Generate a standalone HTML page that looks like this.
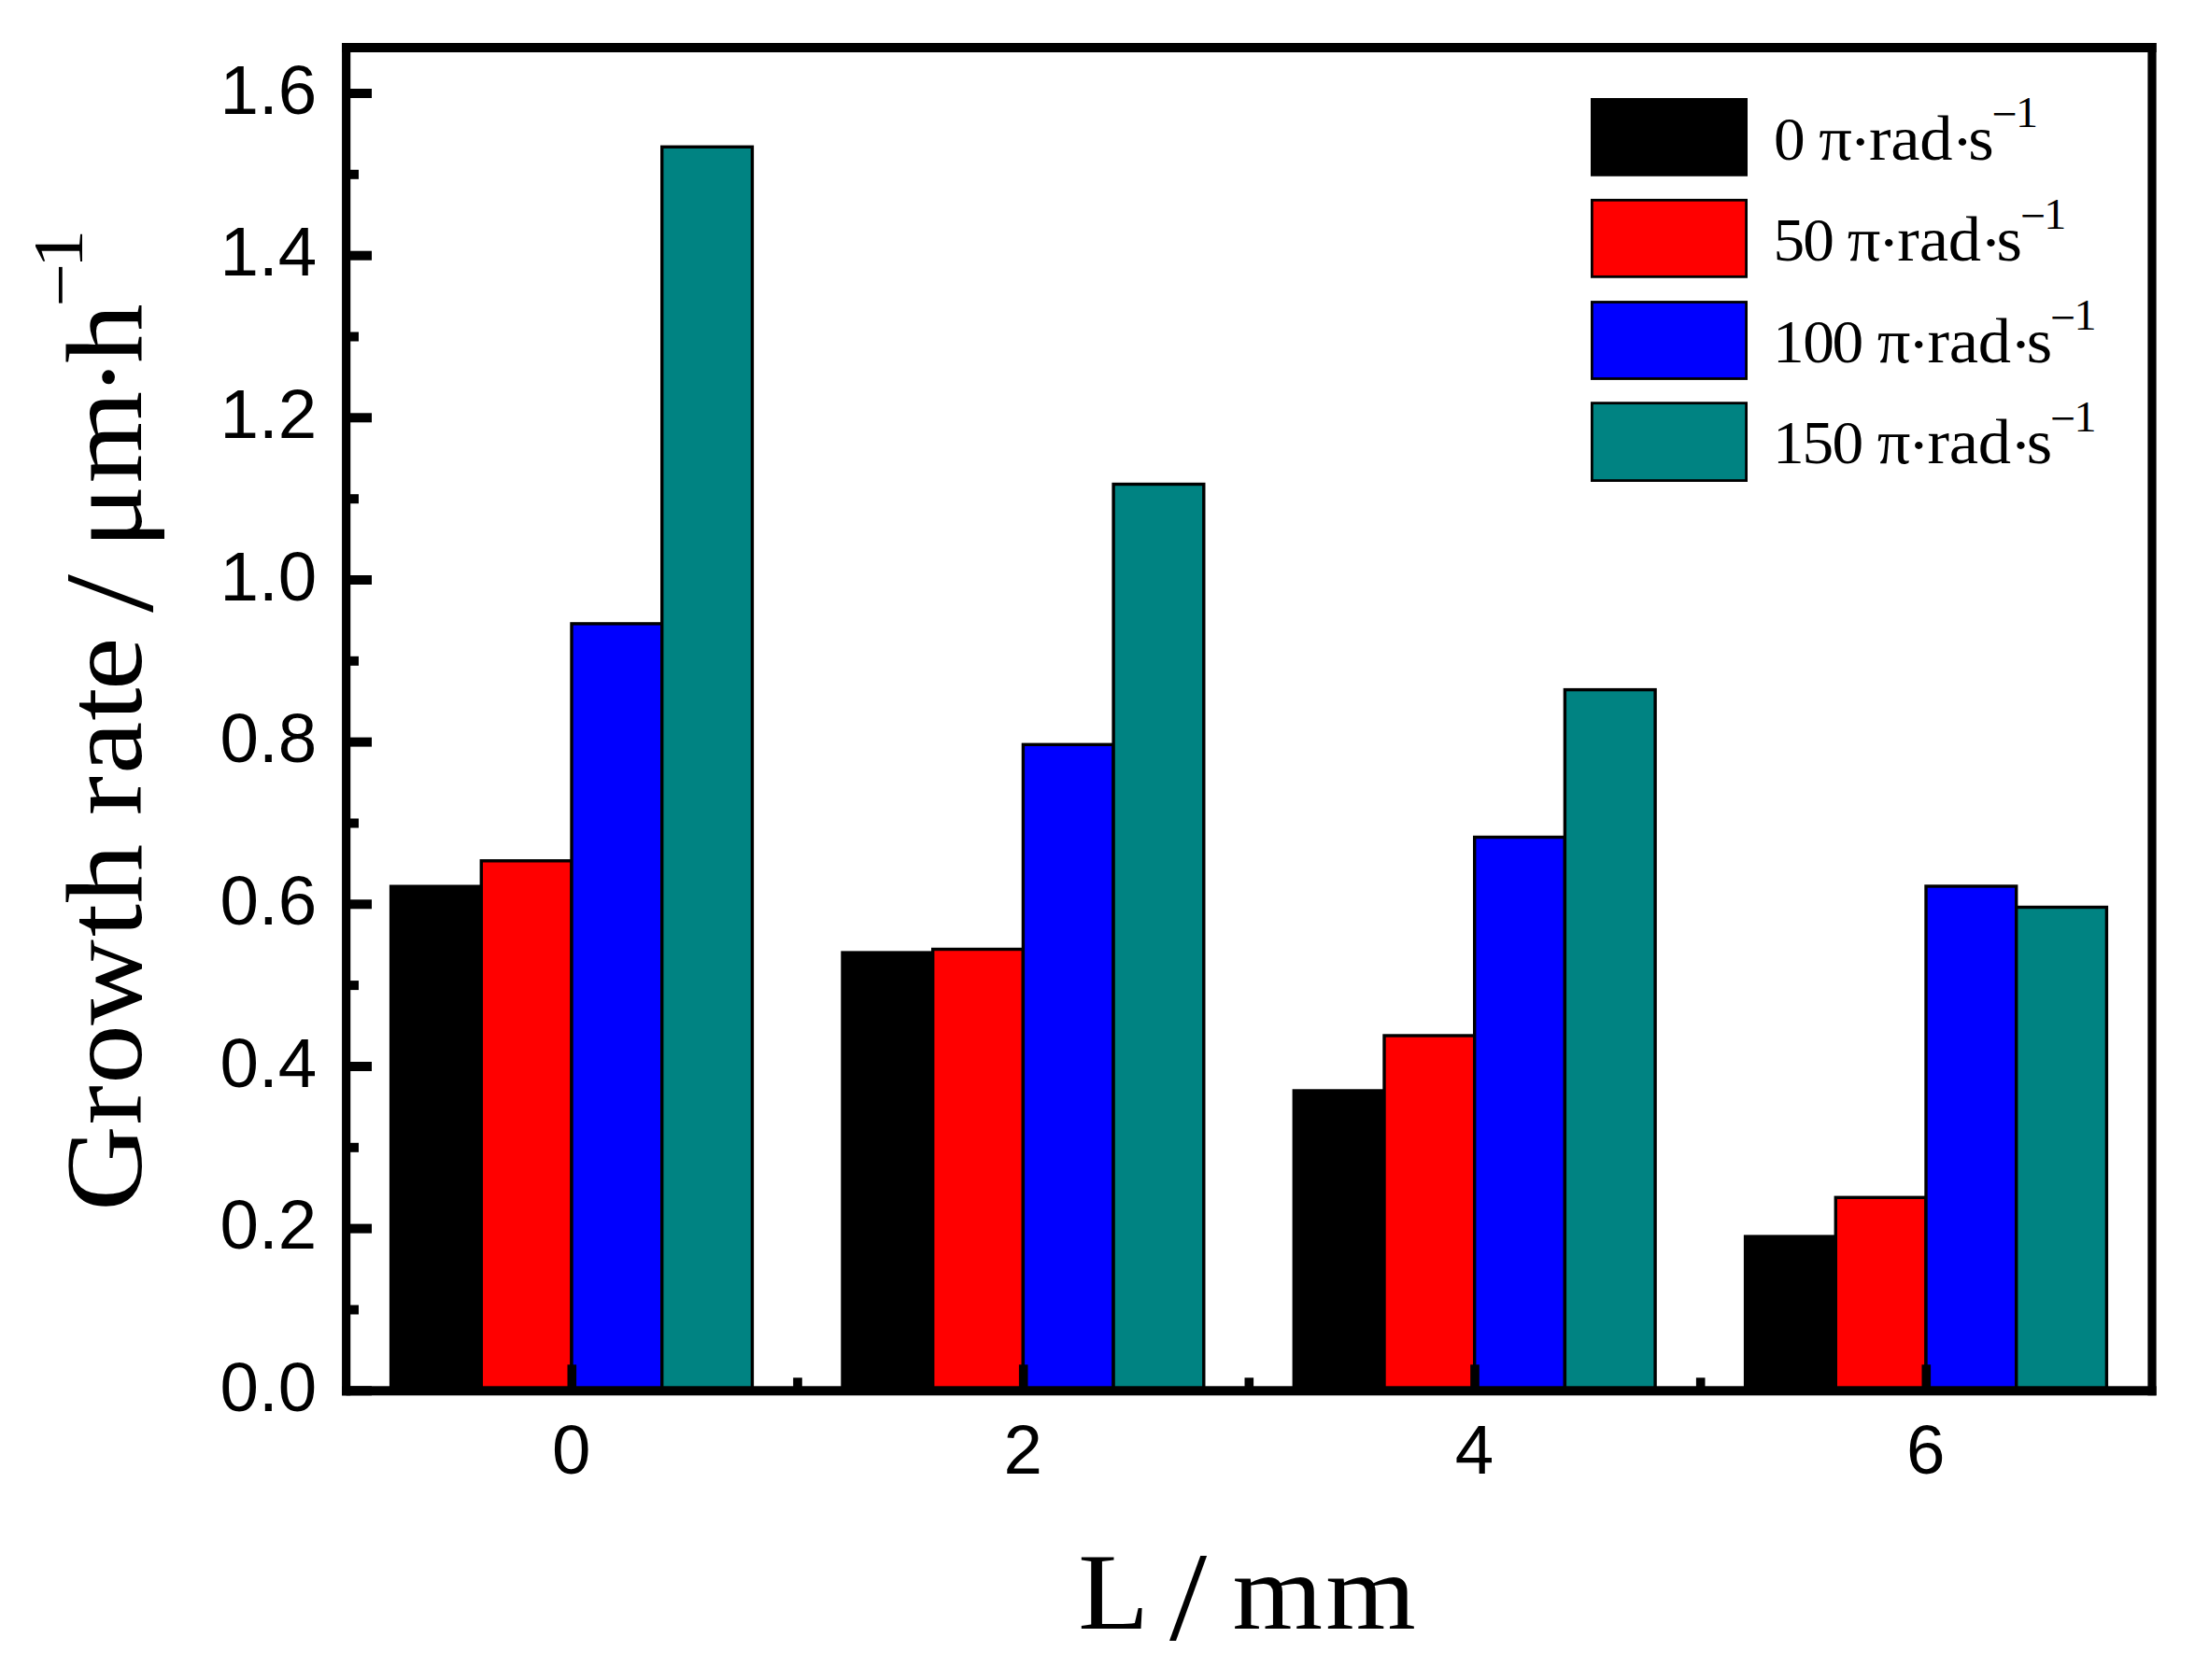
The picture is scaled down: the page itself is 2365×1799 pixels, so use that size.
<!DOCTYPE html>
<html lang="en"><head><meta charset="utf-8"><title>Growth rate vs L</title>
<style>html,body{margin:0;padding:0;background:#fff}body{width:2365px;height:1799px;overflow:hidden}svg{display:block}.s{font-family:"Liberation Serif","DejaVu Serif",serif;fill:#000}.a{font-family:"Liberation Sans","DejaVu Sans",sans-serif;fill:#000;font-size:74.5px}</style></head><body>
<svg width="2365" height="1799" viewBox="0 0 2365 1799">
<rect x="0" y="0" width="2365" height="1799" fill="#ffffff"/>
<g stroke="#000" stroke-width="3.4" stroke-linejoin="miter">
<rect x="418.6" y="949.2" width="96.7" height="540.1" fill="#000000"/>
<rect x="515.3" y="921.8" width="96.7" height="567.5" fill="#ff0000"/>
<rect x="612.0" y="667.9" width="96.7" height="821.4" fill="#0000ff"/>
<rect x="708.7" y="157.3" width="96.7" height="1332.0" fill="#008382"/>
<rect x="902.0" y="1020.1" width="96.7" height="469.2" fill="#000000"/>
<rect x="998.7" y="1016.5" width="96.7" height="472.8" fill="#ff0000"/>
<rect x="1095.4" y="797.3" width="96.7" height="692.0" fill="#0000ff"/>
<rect x="1192.1" y="518.5" width="96.7" height="970.8" fill="#008382"/>
<rect x="1385.3" y="1168.0" width="96.7" height="321.3" fill="#000000"/>
<rect x="1482.0" y="1109.0" width="96.7" height="380.3" fill="#ff0000"/>
<rect x="1578.7" y="896.5" width="96.7" height="592.8" fill="#0000ff"/>
<rect x="1675.4" y="738.6" width="96.7" height="750.7" fill="#008382"/>
<rect x="1868.6" y="1324.1" width="96.7" height="165.2" fill="#000000"/>
<rect x="1965.3" y="1282.3" width="96.7" height="207.0" fill="#ff0000"/>
<rect x="2062.0" y="949.0" width="96.7" height="540.3" fill="#0000ff"/>
<rect x="2158.7" y="971.5" width="96.7" height="517.8" fill="#008382"/>
</g>
<g fill="#000">
<rect x="370.6" y="1484.3" width="27.4" height="10"/>
<rect x="370.6" y="1397.5" width="13.4" height="10"/>
<rect x="370.6" y="1310.6" width="27.4" height="10"/>
<rect x="370.6" y="1223.8" width="13.4" height="10"/>
<rect x="370.6" y="1137.0" width="27.4" height="10"/>
<rect x="370.6" y="1050.1" width="13.4" height="10"/>
<rect x="370.6" y="963.3" width="27.4" height="10"/>
<rect x="370.6" y="876.5" width="13.4" height="10"/>
<rect x="370.6" y="789.6" width="27.4" height="10"/>
<rect x="370.6" y="702.8" width="13.4" height="10"/>
<rect x="370.6" y="616.0" width="27.4" height="10"/>
<rect x="370.6" y="529.2" width="13.4" height="10"/>
<rect x="370.6" y="442.3" width="27.4" height="10"/>
<rect x="370.6" y="355.5" width="13.4" height="10"/>
<rect x="370.6" y="268.7" width="27.4" height="10"/>
<rect x="370.6" y="181.8" width="13.4" height="10"/>
<rect x="370.6" y="95.0" width="27.4" height="10"/>
<rect x="607.5" y="1461.3" width="9.6" height="28.0"/>
<rect x="849.2" y="1475.3" width="9.6" height="14.0"/>
<rect x="1090.9" y="1461.3" width="9.6" height="28.0"/>
<rect x="1332.5" y="1475.3" width="9.6" height="14.0"/>
<rect x="1574.2" y="1461.3" width="9.6" height="28.0"/>
<rect x="1815.9" y="1475.3" width="9.6" height="14.0"/>
<rect x="2057.5" y="1461.3" width="9.6" height="28.0"/>
<rect x="366.05" y="46.00" width="9.20" height="1448.30"/>
<rect x="2299.40" y="46.00" width="9.20" height="1448.30"/>
<rect x="366.05" y="46.00" width="1942.55" height="10.00"/>
<rect x="366.05" y="1484.30" width="1942.55" height="10.00"/>
</g>
<g class="a" text-anchor="end">
<text x="339.2" y="1510.9">0.0</text>
<text x="339.2" y="1337.2">0.2</text>
<text x="339.2" y="1163.6">0.4</text>
<text x="339.2" y="989.9">0.6</text>
<text x="339.2" y="816.2">0.8</text>
<text x="339.2" y="642.6">1.0</text>
<text x="339.2" y="468.9">1.2</text>
<text x="339.2" y="295.3">1.4</text>
<text x="339.2" y="121.6">1.6</text>
</g>
<g class="a" text-anchor="middle">
<text x="611.8" y="1578">0</text>
<text x="1095.2" y="1578">2</text>
<text x="1578.5" y="1578">4</text>
<text x="2061.8" y="1578">6</text>
</g>
<text class="s" font-size="116" transform="translate(0.00,1744.00) scale(1.0700,1.0000)"><tspan x="1078.81 1145.35" y="0.00">L </tspan><tspan font-size="135" x="1170.03 1203.53" y="11.80">/ </tspan><tspan x="1233.27 1326.35" y="0.00">mm</tspan></text>
<g transform="translate(151.25,1288.4) rotate(-90)"><text class="s" font-size="116" transform="translate(0.00,0.00) scale(1.0950,1.0000)"><tspan x="-7.79 76.66 116.53 174.06 260.46 293.25 350.64 379.03 419.54 471.92 501.76 550.85" y="0.00">Growth rate </tspan><tspan font-size="135" x="577.46 610.77" y="11.50">/ </tspan><tspan x="640.32 704.12" y="0.00">μm</tspan><tspan x="788.59" y="4.00">·</tspan><tspan x="821.70" y="0.00">h</tspan><tspan font-size="76" x="876.39" y="-61.30">−</tspan><tspan font-size="76" x="914.19" y="-63.40">1</tspan></text></g>
<rect x="1704.40" y="106.40" width="165.20" height="80.95" fill="#000000" stroke="#000" stroke-width="2.8"/>
<text class="s" font-size="66" transform="translate(0.00,170.60) scale(1.0700,1.0400)"><tspan font-size="63" x="1774.81 1805.25" y="0.00">0 </tspan><tspan x="1819.93" y="0.00">π</tspan><tspan x="1850.51" y="2.88">·</tspan><tspan x="1870.04 1891.84 1920.84" y="0.00">rad</tspan><tspan x="1952.56" y="2.88">·</tspan><tspan x="1969.33" y="0.00">s</tspan><tspan font-size="45" x="1993.08" y="-30.96">−</tspan><tspan font-size="45" x="2016.77" y="-33.08">1</tspan></text>
<rect x="1704.40" y="214.30" width="165.20" height="82.05" fill="#ff0000" stroke="#000" stroke-width="2.8"/>
<text class="s" font-size="66" transform="translate(0.00,279.20) scale(1.0700,1.0400)"><tspan font-size="63" x="1774.21 1803.97 1834.03" y="0.00">50 </tspan><tspan x="1848.34" y="0.00">π</tspan><tspan x="1878.92" y="2.88">·</tspan><tspan x="1898.45 1920.25 1949.25" y="0.00">rad</tspan><tspan x="1980.97" y="2.88">·</tspan><tspan x="1997.75" y="0.00">s</tspan><tspan font-size="45" x="2021.50" y="-30.96">−</tspan><tspan font-size="45" x="2045.18" y="-33.08">1</tspan></text>
<rect x="1704.40" y="323.50" width="165.20" height="82.00" fill="#0000ff" stroke="#000" stroke-width="2.8"/>
<text class="s" font-size="66" transform="translate(0.00,387.80) scale(1.0700,1.0400)"><tspan font-size="63" x="1773.94 1803.97 1833.13 1863.61" y="0.00">100 </tspan><tspan x="1878.34" y="0.00">π</tspan><tspan x="1908.92" y="2.88">·</tspan><tspan x="1928.45 1950.25 1979.25" y="0.00">rad</tspan><tspan x="2010.97" y="2.88">·</tspan><tspan x="2027.75" y="0.00">s</tspan><tspan font-size="45" x="2051.50" y="-30.96">−</tspan><tspan font-size="45" x="2075.18" y="-33.08">1</tspan></text>
<rect x="1704.40" y="431.65" width="165.20" height="82.95" fill="#008382" stroke="#000" stroke-width="2.8"/>
<text class="s" font-size="66" transform="translate(0.00,496.40) scale(1.0700,1.0400)"><tspan font-size="63" x="1773.94 1803.37 1833.13 1863.61" y="0.00">150 </tspan><tspan x="1878.34" y="0.00">π</tspan><tspan x="1908.92" y="2.88">·</tspan><tspan x="1928.45 1950.25 1979.25" y="0.00">rad</tspan><tspan x="2010.97" y="2.88">·</tspan><tspan x="2027.75" y="0.00">s</tspan><tspan font-size="45" x="2051.50" y="-30.96">−</tspan><tspan font-size="45" x="2075.18" y="-33.08">1</tspan></text>
</svg></body></html>
